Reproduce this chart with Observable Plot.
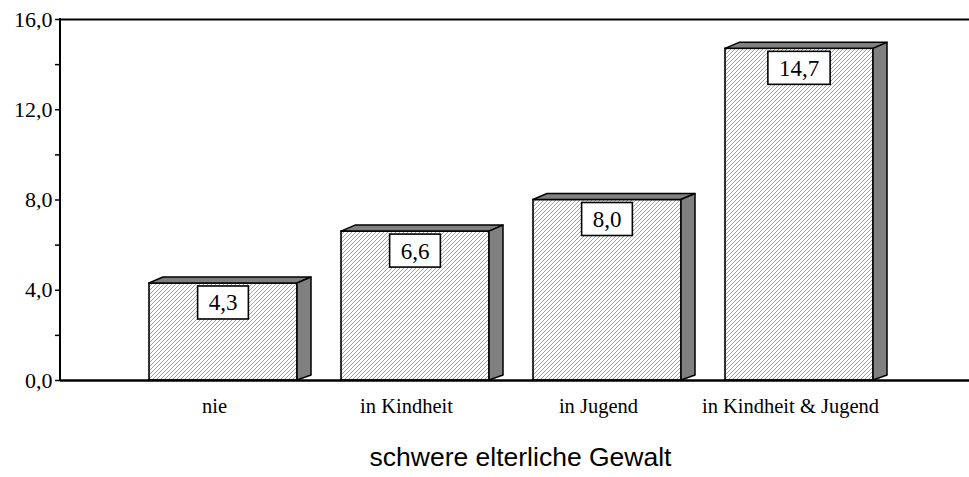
<!DOCTYPE html>
<html><head><meta charset="utf-8">
<script src="https://cdn.jsdelivr.net/npm/d3@7"></script>
<script src="https://cdn.jsdelivr.net/npm/@observablehq/plot@0.6"></script>
<style>body{margin:0;background:#fff} svg{display:block}</style>
</head><body><div id="chart"></div>
<script>
const categories = ["nie", "in Kindheit", "in Jugend", "in Kindheit & Jugend"];
const values = [4.3, 6.6, 8.0, 14.7];
const valueLabels = ["4,3", "6,6", "8,0", "14,7"];
const yTicks = [0, 2, 4, 6, 8, 10, 12, 14, 16];
const yTickLabels = {0: "0,0", 4: "4,0", 8: "8,0", 12: "12,0", 16: "16,0"};
const xTitle = "schwere elterliche Gewalt";

const data = categories.map((c, i) => ({category: c, value: values[i], label: valueLabels[i]}));

const W = 969, H = 477, ML = 60, MT = 19, MB = 97;
const insetL = 31, insetR = 13, depthX = 14, depthY = 6;

const chart = Plot.plot({
  width: W, height: H, marginTop: MT, marginLeft: ML, marginRight: 0, marginBottom: MB,
  style: {background: "#fff", fontFamily: "Liberation Serif", color: "#000"},
  x: {type: "band", domain: categories, range: [118, 886], padding: 0, label: null},
  y: {domain: [0, 16], label: null},
  marks: [
    Plot.barY(data, {x: "category", y: "value", fill: "url(#hatch)", stroke: "#000", strokeWidth: 1.6, insetLeft: insetL, insetRight: insetR}),
    Plot.ruleY([16], {stroke: "#000", strokeWidth: 2}),
    Plot.ruleY([0], {stroke: "#000", strokeWidth: 2.5}),
    Plot.axisY({ticks: yTicks, tickFormat: d => yTickLabels[d] ?? "", tickSize: 5, tickPadding: 3, fontSize: 22, label: null, strokeWidth: 1.5}),
    Plot.axisX({tickSize: 0, tickPadding: 18, fontSize: 20.5, label: null}),
    Plot.text([xTitle], {text: d => d, frameAnchor: "bottom", dy: 85, dx: 5.5, fontSize: 26.5, fontFamily: "Liberation Sans", fill: "#000"})
  ]
});
document.getElementById("chart").append(chart);

const svg = d3.select(chart);
const defs = svg.insert("defs", ":first-child");
const pat = defs.append("pattern").attr("id", "hatch").attr("patternUnits", "userSpaceOnUse")
  .attr("width", 4).attr("height", 4);
pat.append("rect").attr("width", 4).attr("height", 4).attr("fill", "#fff");
pat.append("path").attr("d", "M-1,1 L1,-1 M0,4 L4,0 M3,5 L5,3").attr("stroke", "#9a9a9a").attr("stroke-width", 0.9);

const xs = chart.scale("x"), ys = chart.scale("y");
const bw = xs.bandwidth;
const g = svg.append("g");
// left axis line
g.append("line").attr("x1", ML).attr("x2", ML).attr("y1", ys.apply(16) - 1).attr("y2", ys.apply(0) + 1)
  .attr("stroke", "#000").attr("stroke-width", 2);
data.forEach(d => {
  const bx = xs.apply(d.category);
  const x0 = bx + insetL, x1 = bx + bw - insetR;
  const yt = ys.apply(d.value), yb = ys.apply(0);
  g.append("polygon")
    .attr("points", [[x0, yt], [x0 + depthX, yt - depthY], [x1 + depthX, yt - depthY], [x1, yt]].join(" "))
    .attr("fill", "#808080").attr("stroke", "#000").attr("stroke-width", 1.5).attr("stroke-linejoin", "round");
  g.append("polygon")
    .attr("points", [[x1, yt], [x1 + depthX, yt - depthY], [x1 + depthX, yb - depthY + 1], [x1, yb]].join(" "))
    .attr("fill", "#808080").attr("stroke", "#000").attr("stroke-width", 1.5).attr("stroke-linejoin", "round");
  const cx = (x0 + x1) / 2;
  const box = g.append("rect");
  const t = g.append("text").attr("x", cx).attr("y", yt + 3 + 24.5).attr("text-anchor", "middle")
    .attr("font-family", "Liberation Serif").attr("font-size", 23).attr("fill", "#000").text(d.label);
  const tw = t.node().getComputedTextLength();
  const bwid = tw + 22;
  box.attr("x", cx - bwid / 2).attr("y", yt + 3).attr("width", bwid).attr("height", 33)
    .attr("fill", "#fff").attr("stroke", "#000").attr("stroke-width", 1.6);
});
</script></body></html>
